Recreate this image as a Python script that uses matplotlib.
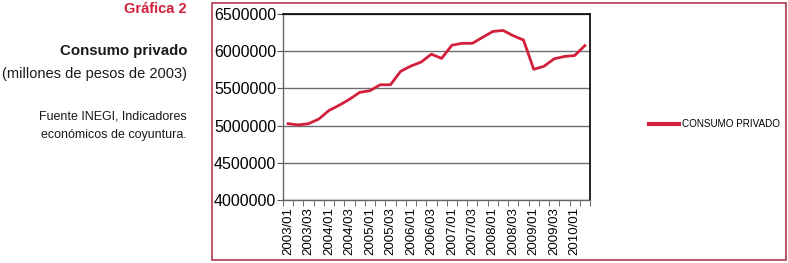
import matplotlib.pyplot as plt
import matplotlib.patches as patches

plt.rcParams['font.family'] = ['Liberation Sans', 'DejaVu Sans']

# datos trimestrales 2003/01 - 2010/02
trimestres = ['2003/01', '2003/02', '2003/03', '2003/04',
              '2004/01', '2004/02', '2004/03', '2004/04',
              '2005/01', '2005/02', '2005/03', '2005/04',
              '2006/01', '2006/02', '2006/03', '2006/04',
              '2007/01', '2007/02', '2007/03', '2007/04',
              '2008/01', '2008/02', '2008/03', '2008/04',
              '2009/01', '2009/02', '2009/03', '2009/04',
              '2010/01', '2010/02']
consumo = [5026000, 5009000, 5026000, 5088000, 5204000, 5274000, 5354000, 5447000,
           5469000, 5549000, 5549000, 5730000, 5801000, 5854000, 5960000, 5903000,
           6080000, 6106000, 6106000, 6186000, 6265000, 6279000, 6208000, 6150000,
           5757000, 5797000, 5898000, 5929000, 5942000, 6075000]
y_ticks = [4000000, 4500000, 5000000, 5500000, 6000000, 6500000]

rojo = '#d21f3c'
marco = '#b23a50'

W, H = 788, 263
fig = plt.figure(figsize=(W / 100, H / 100), dpi=100)

# marco exterior del gráfico
fig.patches.append(patches.Rectangle((211.5 / W, 3 / H), (786 - 211.5) / W, (260 - 3) / H,
                                     transform=fig.transFigure, fill=False,
                                     edgecolor=marco, linewidth=1.2))

# textos de la izquierda
fig.text(187 / W, 1 - 9 / H, 'Gráfica 2', ha='right', va='center',
         fontsize=10.5, fontweight='bold', color=rojo)
fig.text(187 / W, 1 - 51 / H, 'Consumo privado', ha='right', va='center',
         fontsize=10.8, fontweight='bold', color='#1a1a1a')
fig.text(187 / W, 1 - 74 / H, '(millones de pesos de 2003)', ha='right', va='center',
         fontsize=10.5, color='#1a1a1a')
fig.text(187 / W, 1 - 117 / H, 'Fuente INEGI, Indicadores', ha='right', va='center',
         fontsize=9, color='#1a1a1a')
fig.text(187 / W, 1 - 135 / H, 'económicos de coyuntura.', ha='right', va='center',
         fontsize=9, color='#1a1a1a')

# área de la gráfica
ax = fig.add_axes([283 / W, (H - 200) / H, 307 / W, (200 - 14) / H])
x = list(range(len(trimestres)))
ax.plot(x, consumo, color=rojo, linewidth=2, label='CONSUMO PRIVADO')

ax.set_ylim(4000000, 6500000)
ax.set_yticks(y_ticks)
ax.set_yticklabels([str(v) for v in y_ticks], fontsize=11.5)
ax.yaxis.grid(True, color='#6e6e6e', linewidth=1)
ax.set_axisbelow(True)

ax.set_xlim(-0.5, len(trimestres) - 0.5)
ax.set_xticks(x[::2])
ax.set_xticklabels(trimestres[::2], rotation=90, fontsize=9.5)
ax.set_xticks([i - 0.5 for i in range(len(trimestres) + 1)], minor=True)
ax.tick_params(axis='x', which='major', length=0, pad=5)
ax.tick_params(axis='x', which='minor', length=4, color='#555555')
ax.tick_params(axis='y', length=4, color='#555555', pad=1)

for lado in ['top', 'right']:
    ax.spines[lado].set_color('black')
    ax.spines[lado].set_linewidth(1.2)
for lado in ['left', 'bottom']:
    ax.spines[lado].set_color('#666666')
    ax.spines[lado].set_linewidth(1)

leg = ax.legend(loc='center left', bbox_to_anchor=(649 / W, 1 - 124 / H),
                bbox_transform=fig.transFigure, frameon=False, fontsize=7.1,
                handlelength=3.0, handletextpad=0.3, borderpad=0, borderaxespad=0)
leg.get_lines()[0].set_linewidth(3)

fig.savefig('out.png', dpi=100)
